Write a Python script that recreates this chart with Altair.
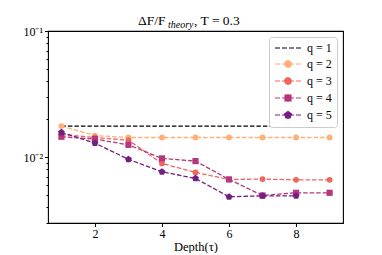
import altair as alt
import pandas as pd

depth = [1, 2, 3, 4, 5, 6, 7, 8, 9]
q1 = [0.0176, 0.0176, 0.0176, 0.0176, 0.0176, 0.0176, 0.0176, 0.0176, 0.0176]
q2 = [0.0176, 0.0148, 0.0143, 0.0143, 0.0143, 0.0143, 0.0143, 0.0143, 0.0143]
q3 = [0.0151, 0.0143, 0.0136, 0.0089, 0.00756, 0.00665, 0.00669, 0.0066, 0.0066]
q4 = [0.0145, 0.0139, 0.0125, 0.00976, 0.00929, 0.00665, 0.00496, 0.00521, 0.00521]
q5_depth = [1, 2, 3, 4, 5, 6, 7, 8]
q5 = [0.0157, 0.0129, 0.0096, 0.00765, 0.00677, 0.00484, 0.00493, 0.00493]

labels = ["q = 1", "q = 2", "q = 3", "q = 4", "q = 5"]
colors = ["#000000", "#feb078", "#f1655c", "#b5367a", "#721f81"]

y_major = [0.01, 0.1]
y_minor = [0.003, 0.004, 0.005, 0.006, 0.007, 0.008, 0.009,
           0.02, 0.03, 0.04, 0.05, 0.06, 0.07, 0.08, 0.09]
x_ticks = [2, 4, 6, 8]

FONT = "Liberation Serif"
PENT = "M0,-1L0.951,-0.309L0.588,0.809L-0.588,0.809L-0.951,-0.309Z"

xscale = alt.Scale(domain=[0.6, 9.4], nice=False, zero=False)
yscale = alt.Scale(type="log", domain=[0.003, 0.1], nice=False)

xaxis = alt.Axis(values=x_ticks, title="Depth(τ)", grid=False, domain=False,
                 tickColor="black", tickSize=3.5, labelFont=FONT, labelFontSize=12,
                 labelColor="black", titleFont=FONT, titleFontSize=12.5,
                 titleFontWeight="normal", titleColor="black", labelPadding=2,
                 titlePadding=1)
yaxis = alt.Axis(values=sorted(y_major + y_minor), title=None, grid=False, domain=False,
                 tickColor="black",
                 tickSize={"condition": {"test": "datum.value == 0.1 || datum.value == 0.01",
                                         "value": 3.5}, "value": 2},
                 labelExpr="datum.value == 0.1 ? '10⁻¹' : (datum.value == 0.01 ? '10⁻²' : '')",
                 labelFont=FONT, labelFontSize=12, labelColor="black", labelPadding=2)

def series_layers(xs, ys, color, shape, size):
    df = pd.DataFrame({"depth": xs, "val": ys})
    base = alt.Chart(df)
    enc_x = alt.X("depth:Q", scale=xscale, axis=xaxis)
    enc_y = alt.Y("val:Q", scale=yscale, axis=yaxis)
    line = base.mark_line(strokeDash=[4.5, 2], strokeWidth=1.3, color=color).encode(
        x=enc_x, y=enc_y)
    out = [line]
    if shape is not None:
        pts = base.mark_point(filled=True, opacity=1, color=color, shape=shape,
                              size=size).encode(x=enc_x, y=enc_y)
        out.append(pts)
    return out

layers = []
layers += series_layers(depth, q1, colors[0], None, 0)
layers += series_layers(depth, q2, colors[1], "circle", 34)
layers += series_layers(depth, q3, colors[2], "circle", 34)
layers += series_layers(depth, q4, colors[3], "square", 38)
layers += series_layers(q5_depth, q5, colors[4], PENT, 52)

# legend symbols: dashed line + marker + error bar
DASH4 = "M-1,0H0M0.4,0H1.4M1.8,0H2.8M3.2,0H4.2"
DASH3 = "M-1,0H0M0.4,0H2.8M3.2,0H4.2M1.6,-0.8V0.8"
circ = "M0.95,0A0.65,0.65 0 1,0 2.25,0A0.65,0.65 0 1,0 0.95,0Z"
sq = "M1.0,-0.6H2.2V0.6H1.0Z"
pent = "M1.6,-0.72L2.28,-0.22L2.02,0.58L1.18,0.58L0.92,-0.22Z"
leg_shapes = [DASH4, DASH3 + circ, DASH3 + circ, DASH3 + sq, DASH3 + pent]

legend = alt.Legend(title=None, orient="top-right")
leg_df = pd.DataFrame({"label": labels})
leg = alt.Chart(leg_df).transform_filter("false").mark_point(
    filled=True, size=100, strokeWidth=1.2, opacity=1).encode(
    fill=alt.Fill("label:N", scale=alt.Scale(domain=labels, range=colors), legend=legend),
    stroke=alt.Stroke("label:N", scale=alt.Scale(domain=labels, range=colors), legend=legend),
    shape=alt.Shape("label:N", scale=alt.Scale(domain=labels, range=leg_shapes), legend=legend),
)
layers.append(leg)

one = alt.Data(values=[{}])
t1 = alt.Chart(one).mark_text(text="ΔF/F", font=FONT, fontSize=13.5, align="left",
                              baseline="alphabetic", color="black").encode(
    x=alt.value(90), y=alt.value(-6))
t2 = alt.Chart(one).mark_text(text="theory", font=FONT, fontSize=10, fontStyle="italic",
                              align="left", baseline="alphabetic", color="black").encode(
    x=alt.value(120), y=alt.value(-3.5))
t3 = alt.Chart(one).mark_text(text=", T = 0.3", font=FONT, fontSize=13.5, align="left",
                              baseline="alphabetic", color="black").encode(
    x=alt.value(146), y=alt.value(-6))
layers += [t1, t2, t3]

chart = alt.layer(*layers).resolve_scale(
    fill="independent", stroke="independent", shape="independent"
).properties(
    width=295, height=192,
    padding={"left": 40, "top": 23, "right": 25, "bottom": 30},
    autosize="none",
).configure(background="white").configure_view(
    stroke="black", strokeWidth=1.1
).configure_legend(
    offset=6, padding=5, strokeColor="#cccccc", fillColor="white", cornerRadius=3,
    symbolSize=100, symbolStrokeWidth=1.2, labelFont=FONT, labelFontSize=12,
    labelFontWeight="normal", labelColor="black", labelOffset=21, rowPadding=3,
    labelLimit=0
)

chart.save("out.html", embed_options={"renderer": "svg", "actions": False})
